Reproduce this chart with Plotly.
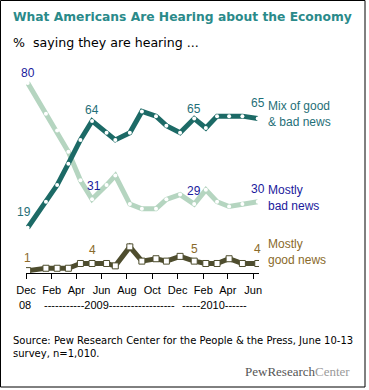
import plotly.graph_objects as go

# ---- data ----
survey_dates = ["2008-12-05", "2009-01-18", "2009-02-14", "2009-03-13", "2009-04-11",
                "2009-05-09", "2009-06-13", "2009-07-04", "2009-08-08", "2009-09-06",
                "2009-10-10", "2009-11-04", "2009-12-07", "2010-01-10", "2010-02-07",
                "2010-03-06", "2010-04-04", "2010-05-06", "2010-06-12"]
mix_news = [19, 30, 37, 46, 56, 64, 59, 56, 59, 68, 66, 62, 59, 65, 61, 66, 66, 66, 65]
bad_news = [80, 67, 60, 51, 39, 31, 37, 41, 29, 27, 27, 31, 33, 29, 35, 30, 28, 29, 30]
good_news = [1, 2, 2, 2, 4, 4, 4, 3, 11, 5, 6, 5, 7, 5, 4, 4, 6, 4, 4]

tick_dates = ["2008-12-01", "2009-02-01", "2009-04-01", "2009-06-01", "2009-08-01",
              "2009-10-01", "2009-12-01", "2010-02-01", "2010-04-01", "2010-06-01"]
tick_labels = ["Dec", "Feb", "Apr", "Jun", "Aug", "Oct", "Dec", "Feb", "Apr", "Jun"]

C_MIX = "#1c6a66"
C_BAD = "#b5d5c0"
C_GOOD = "#4e4d2e"
T_MIX = "#1f6f78"
T_BAD = "#1a1a9c"
T_GOOD = "#8a6a2a"

W, H = 369, 390
ML, MR, MT, MB = 26, 110, 71, 117
PW, PH = W - ML - MR, H - MT - MB

fig = go.Figure()
fig.add_trace(go.Scatter(x=survey_dates, y=bad_news, mode="lines+markers",
                         line=dict(color=C_BAD, width=5),
                         marker=dict(symbol="circle", size=4, color="white",
                                     line=dict(width=0)), hoverinfo="skip"))
fig.add_trace(go.Scatter(x=survey_dates, y=mix_news, mode="lines+markers",
                         line=dict(color=C_MIX, width=5),
                         marker=dict(symbol="circle", size=4, color="white",
                                     line=dict(width=0)), hoverinfo="skip"))
fig.add_trace(go.Scatter(x=survey_dates, y=good_news, mode="lines+markers",
                         line=dict(color=C_GOOD, width=5),
                         marker=dict(symbol="square", size=6, color="white",
                                     line=dict(width=1, color=C_GOOD)), hoverinfo="skip"))

ann = []
FONT = "Liberation Sans, Arial, sans-serif"

def val_label(i, series, color, yshift, xshift=0):
    ann.append(dict(x=survey_dates[i], y=series[i], xref="x", yref="y",
                    xanchor="center", yanchor="middle",
                    text=str(series[i]), showarrow=False, xshift=xshift, yshift=yshift,
                    font=dict(family=FONT, size=12, color=color)))

val_label(0, bad_news, T_BAD, 10)
val_label(5, bad_news, T_BAD, 13, 2)
val_label(13, bad_news, T_BAD, 13)
val_label(18, bad_news, T_BAD, 13)
val_label(0, mix_news, T_MIX, 16, -4)
val_label(5, mix_news, T_MIX, 11)
val_label(13, mix_news, T_MIX, 10)
val_label(18, mix_news, T_MIX, 16)
val_label(0, good_news, T_GOOD, 13)
val_label(5, good_news, T_GOOD, 13)
val_label(13, good_news, T_GOOD, 12)
val_label(18, good_news, T_GOOD, 14)

last = survey_dates[-1]
ann.append(dict(x=last, y=mix_news[-1], xref="x", yref="y", xanchor="left", yanchor="middle",
                xshift=8, yshift=5, showarrow=False, align="left",
                text="Mix of good<br>& bad news",
                font=dict(family=FONT, size=12, color=T_MIX)))
ann.append(dict(x=last, y=bad_news[-1], xref="x", yref="y", xanchor="left", yanchor="middle",
                xshift=8, yshift=4, showarrow=False, align="left",
                text="Mostly<br>bad news",
                font=dict(family=FONT, size=12, color=T_BAD)))
ann.append(dict(x=last, y=good_news[-1], xref="x", yref="y", xanchor="left", yanchor="middle",
                xshift=8, yshift=11, showarrow=False, align="left",
                text="Mostly<br>good news",
                font=dict(family=FONT, size=12, color=T_GOOD)))

def px_x(p):
    return (p - ML) / PW

def px_y(p):
    return (H - MB - p) / PH

# year row under tick labels
ann.append(dict(x=px_x(25), y=px_y(305), xref="paper", yref="paper", text="08",
                xanchor="center", yanchor="middle",
                showarrow=False, font=dict(family=FONT, size=11, color="black")))
ann.append(dict(x=px_x(42), y=px_y(305), xref="paper", yref="paper",
                xanchor="left", yanchor="middle",
                text="-" * 11 + "2009" + "-" * 18, showarrow=False,
                font=dict(family=FONT, size=11, color="black")))
ann.append(dict(x=px_x(180), y=px_y(305), xref="paper", yref="paper",
                xanchor="left", yanchor="middle",
                text="-" * 5 + "2010" + "-" * 6, showarrow=False,
                font=dict(family=FONT, size=11, color="black")))

# titles
ann.append(dict(x=px_x(11), y=px_y(17), xref="paper", yref="paper",
                xanchor="left", yanchor="middle",
                text="<b>What Americans Are Hearing about the Economy</b>", showarrow=False,
                font=dict(family="DejaVu Sans", size=12.3, color="#2a8a8a")))
ann.append(dict(x=px_x(11), y=px_y(42), xref="paper", yref="paper",
                xanchor="left", yanchor="middle",
                text="%  saying they are hearing ...", showarrow=False,
                font=dict(family="DejaVu Sans", size=12.6, color="black")))
# source
ann.append(dict(x=px_x(11), y=px_y(347), xref="paper", yref="paper",
                xanchor="left", yanchor="middle",
                align="left", showarrow=False,
                text="Source: Pew Research Center for the People &amp; the Press, June 10-13<br>survey, n=1,010.",
                font=dict(family="DejaVu Sans", size=10, color="black")))
ann.append(dict(x=px_x(352), y=px_y(371), xref="paper", yref="paper",
                xanchor="right", yanchor="middle",
                showarrow=False,
                text="<span style='color:#555555'>PewResearch</span><span style='color:#9a9a9a'>Center</span>",
                font=dict(family="Liberation Serif, serif", size=13, color="#555555")))

shapes = [dict(type="rect", xref="paper", yref="paper",
               x0=px_x(0.5), x1=px_x(365), y0=px_y(0.5), y1=px_y(387),
               line=dict(color="black", width=1), fillcolor="rgba(0,0,0,0)")]

fig.update_layout(
    width=W, height=H,
    margin=dict(l=ML, r=MR, t=MT, b=MB, pad=0),
    paper_bgcolor="white", plot_bgcolor="white",
    showlegend=False,
    annotations=ann, shapes=shapes,
    xaxis=dict(type="date", range=["2008-12-01", "2010-06-15"],
               tickvals=tick_dates, ticktext=tick_labels,
               ticks="outside", ticklen=5, tickcolor="black", tickwidth=1,
               ticklabelstandoff=2,
               showline=True, linecolor="black", linewidth=1,
               showgrid=False, zeroline=False,
               tickfont=dict(family=FONT, size=11, color="black")),
    yaxis=dict(range=[0, 85], visible=False, showgrid=False, zeroline=False),
)

fig.write_html("out.html", post_script="document.body.style.margin='0';",
               config={"displayModeBar": False})
